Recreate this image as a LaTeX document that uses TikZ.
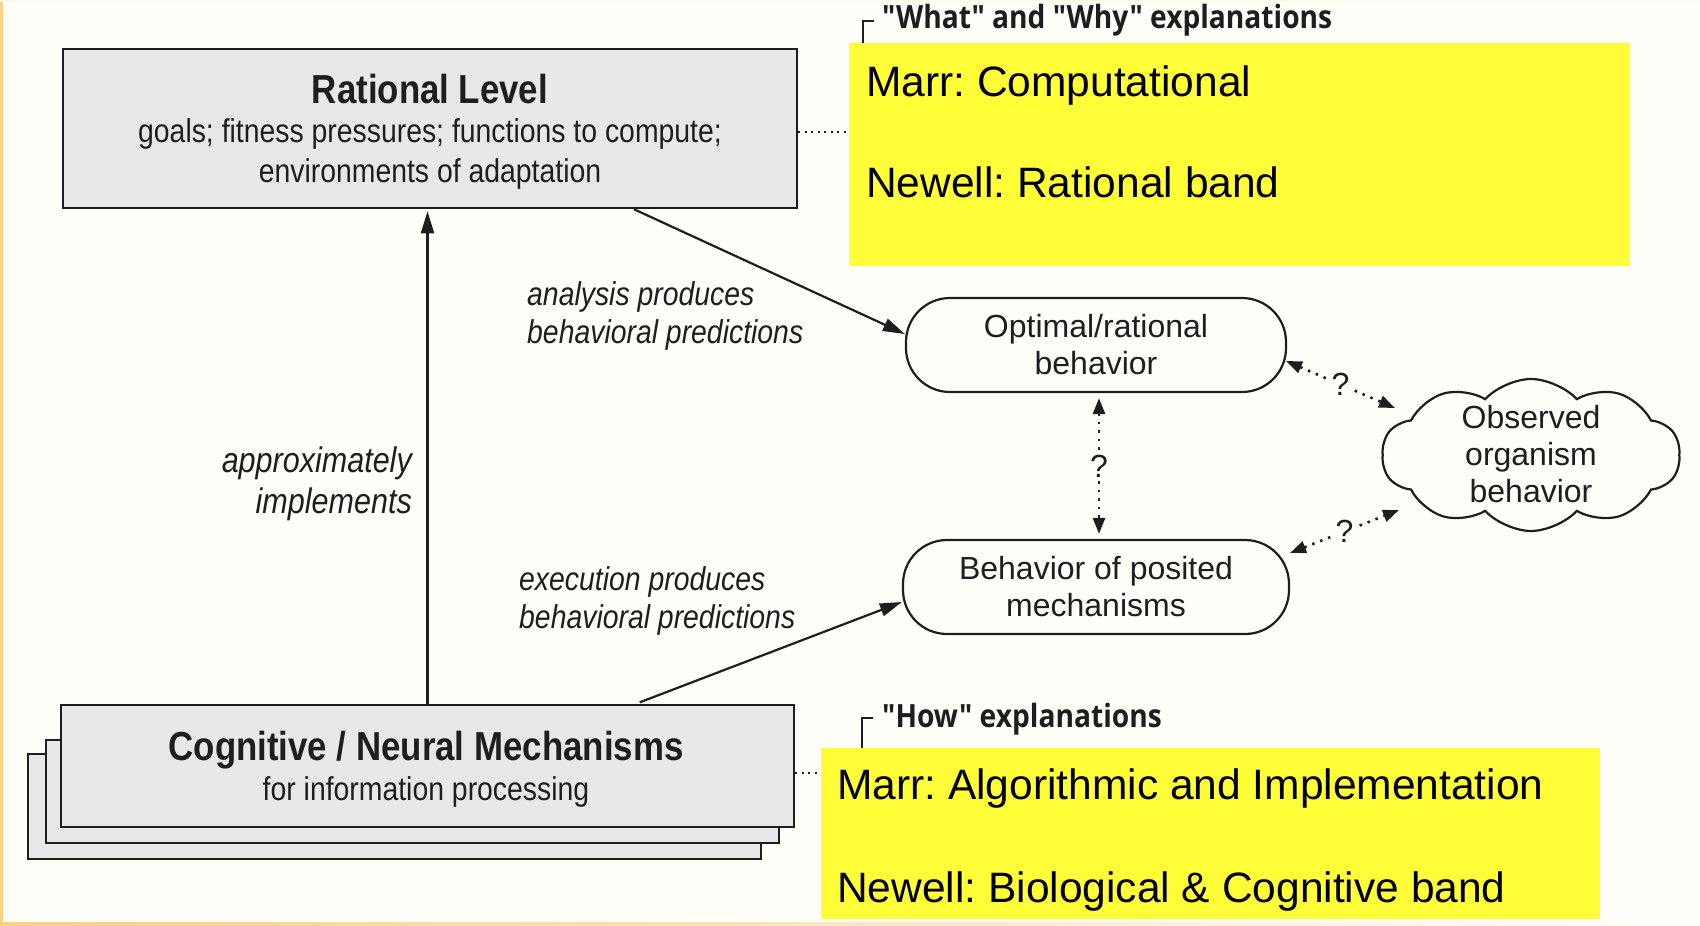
\documentclass[tikz,border=0pt]{standalone}
\usepackage{fontspec}
\setmainfont{Liberation Sans}
\newfontfamily\narrowsf[FakeStretch=0.86]{Liberation Sans}
\newfontfamily\condsf[FakeStretch=0.88]{Open Sans}
\usetikzlibrary{shapes.symbols,arrows.meta,calc}
\definecolor{bg}{RGB}{255,254,249}
\definecolor{hl}{RGB}{255,252,56}
\definecolor{boxfill}{RGB}{232,232,232}
\definecolor{ink}{RGB}{30,30,30}
\definecolor{edge}{RGB}{250,208,130}
\frenchspacing
\tikzset{
  boxst/.style={draw=ink, fill=boxfill, line width=2.5pt, rectangle, inner sep=0pt},
  stad/.style={draw=ink, fill=bg, line width=2.2pt, rounded corners=44pt, align=center, text=ink,
     font=\fontsize{32}{37}\selectfont, inner sep=0pt},
  hlbox/.style={fill=hl, rectangle, inner sep=0pt},
  titlef/.style={text=ink, inner sep=0pt, font=\narrowsf\bfseries\fontsize{40.5}{48}\selectfont},
  subf/.style={text=ink, inner sep=0pt, font=\narrowsf\fontsize{33}{40}\selectfont},
  itf/.style={text=ink, inner sep=0pt, font=\narrowsf\itshape\fontsize{33}{40}\selectfont},
  itbig/.style={text=ink, inner sep=0pt, font=\narrowsf\itshape\fontsize{35.5}{42}\selectfont},
  hlf/.style={text=black, inner sep=0pt, font=\fontsize{42.5}{50}\selectfont},
  headf/.style={text=ink, inner sep=0pt, font=\condsf\bfseries\fontsize{32}{38}\selectfont},
  arr/.style={draw=ink, line width=2.2pt, -{Triangle[length=22pt,width=13pt]}},
  darr/.style={draw=ink, line width=2.6pt, dash pattern=on 2.5pt off 6pt,
     {Triangle[length=16pt,width=12pt]}-{Triangle[length=16pt,width=12pt]}},
  dotline/.style={draw=ink, line width=2.2pt, dash pattern=on 2pt off 4.5pt},
  qm/.style={text=ink, fill=bg, inner sep=2pt, font=\fontsize{32}{37}\selectfont},
  brk/.style={draw=ink, line width=2pt}
}
\begin{document}
\begin{tikzpicture}[x=1pt,y=-1pt]
\useasboundingbox (0,0) rectangle (1700,926);
\fill[bg] (0,0) rectangle (1700,926);
\fill[edge] (0,0) rectangle (2.5,926);
\shade[left color=edge, right color=bg] (0,922.5) rectangle (1700,926);
\fill[bg!90!edge] (0,0) rectangle (1700,2);

% yellow boxes
\node[hlbox, minimum width=781pt, minimum height=223pt] (hl1) at (1239.5,154.5) {};
\node[hlbox, minimum width=779pt, minimum height=171pt] (hl2) at (1210.5,833.5) {};
\node[hlf, anchor=base west] (m1) at (866,96) {Marr: Computational};
\node[hlf, anchor=base west] (n1) at (866,197) {Newell: Rational band};
\node[hlf, anchor=base west] (m2) at (837,799) {Marr: Algorithmic and Implementation};
\node[hlf, anchor=base west] (n2) at (837,902) {Newell: Biological \& Cognitive band};

% headings with brackets
\node[headf, anchor=base west] (h1) at (882,28) {"What" and "Why" explanations};
\node[headf, anchor=base west] (h2) at (882,727) {"How" explanations};
\draw[brk] ([xshift=14pt]hl1.north west) -- ++(0,-22) -- ++(11,0);
\draw[brk] ([xshift=41pt]hl2.north west) -- ++(0,-30) -- ++(11,0);

% rational level box
\node[boxst, minimum width=734pt, minimum height=159pt] (rational) at (430,128.5) {};
\node[titlef, anchor=base] (ratT) at (430,103) {Rational Level};
\node[subf, anchor=base] (ratS1) at (430,142.5) {goals; fitness pressures; functions to compute;};
\node[subf, anchor=base] (ratS2) at (430,182.5) {environments of adaptation};

% cognitive stack
\node[boxst, minimum width=733pt, minimum height=105pt] (cog3) at (394.5,806.5) {};
\node[boxst, minimum width=733pt, minimum height=103pt] (cog2) at (412.5,791.5) {};
\node[boxst, minimum width=733pt, minimum height=122pt] (cog) at (427.5,766) {};
\node[titlef, anchor=base] (cogT) at (426,760) {Cognitive / Neural Mechanisms};
\node[subf, anchor=base] (cogS) at (426,800) {for information processing};

% behaviour nodes
\node[stad, minimum width=380pt, minimum height=94pt] (opt) at (1096,345) {Optimal/rational\\behavior};
\node[stad, minimum width=386pt, minimum height=94pt] (pos) at (1096,587) {Behavior of posited\\mechanisms};
\node[cloud, draw=ink, fill=bg, line width=2.2pt, cloud puffs=10, cloud puff arc=95, aspect=2,
      minimum width=298pt, minimum height=152pt, inner sep=0pt] (obs) at (1531,455) {};
\node[align=center, text=ink, inner sep=0pt, font=\fontsize{32}{37}\selectfont] (obsT) at (1531,454)
      {Observed\\organism\\behavior};

% dotted links to yellow boxes
\coordinate (r1) at ([yshift=-3.5pt]rational.east);
\draw[dotline] (r1) -- (r1 -| hl1.west);
\coordinate (c1) at ([yshift=-7pt]cog.east);
\draw[dotline] (c1) -- (c1 -| hl2.west);

% solid arrows
\draw[arr, shorten >=2pt] (cog.north) -- (cog.north |- rational.south);
\draw[arr] ([xshift=204pt]rational.south) -- ([yshift=11pt]opt.west);
\draw[arr, shorten <=4pt] ([xshift=208.5pt]cog.north) -- ([yshift=-15pt]pos.west);

% labels
\node[itf, anchor=base west] (l1a) at (527,305) {analysis produces};
\node[itf, anchor=base west] (l1b) at (527,343) {behavioral predictions};
\node[itf, anchor=base west] (l2a) at (519,590) {execution produces};
\node[itf, anchor=base west] (l2b) at (519,628) {behavioral predictions};
\node[itbig, anchor=base east] (l3a) at (412,472) {approximately};
\node[itbig, anchor=base east] (l3b) at (412,513) {implements};

% dotted double arrows
\draw[darr, shorten <=5pt, shorten >=5pt] ([xshift=3pt]opt.south) -- node[qm] {?} ([xshift=3pt]pos.north);
\draw[darr] ($(opt.center)+(190,16)$) -- node[qm] {?} ($(obs.center)+(-136,-47)$);
\draw[darr] ($(pos.center)+(194,-34)$) -- node[qm] {?} ($(obs.center)+(-132,55)$);
\end{tikzpicture}
\end{document}
